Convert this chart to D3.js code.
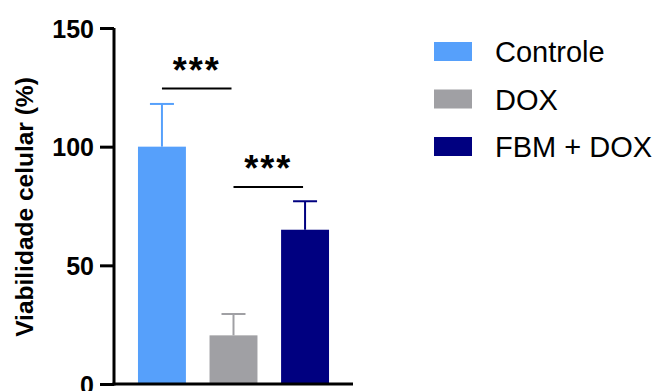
<!DOCTYPE html>
<html>
<head>
<meta charset="utf-8">
<script src="https://cdn.jsdelivr.net/npm/d3@7"></script>
<style>
  body { margin: 0; background: #fff; }
  svg { font-family: "Liberation Sans", Arial, sans-serif; }
</style>
</head>
<body>
<svg width="657" height="391"></svg>
<script>
// Data
const groups = ["Controle", "DOX", "FBM + DOX"];
const means = [100, 20.5, 65];
const errTop = [118, 29.5, 77];
const colors = ["#56a0fb", "#a0a0a4", "#000080"];
const yTicks = [0, 50, 100, 150];
// significance brackets: [from index, to index, value]
const brackets = [[0, 1, 124.5], [1, 2, 83]];

const svg = d3.select("svg");

// Scales
const x = d3.scaleBand()
    .domain(groups)
    .range([114, 353])
    .paddingInner(0.33)
    .paddingOuter(0.335);

const y = d3.scaleLinear()
    .domain([0, 150])
    .range([384, 28]);

// Bars
svg.selectAll(".bar")
    .data(groups)
    .enter()
    .append("rect")
    .attr("class", "bar")
    .attr("x", d => x(d))
    .attr("y", (d, i) => y(means[i]))
    .attr("width", x.bandwidth())
    .attr("height", (d, i) => y(0) - y(means[i]))
    .attr("fill", (d, i) => colors[i]);

// Error bars (upper only)
const eb = svg.append("g");
groups.forEach((g, i) => {
    const cx = x(g) + x.bandwidth() / 2;
    eb.append("line")
        .attr("x1", cx).attr("x2", cx)
        .attr("y1", y(means[i])).attr("y2", y(errTop[i]))
        .attr("stroke", colors[i]).attr("stroke-width", 2);
    eb.append("line")
        .attr("x1", cx - 12).attr("x2", cx + 12)
        .attr("y1", y(errTop[i])).attr("y2", y(errTop[i]))
        .attr("stroke", colors[i]).attr("stroke-width", 2);
});

// Y axis
const yAxis = svg.append("g")
    .attr("transform", "translate(114,0)")
    .call(d3.axisLeft(y).tickValues(yTicks).tickSize(14).tickPadding(6));
yAxis.select(".domain").attr("stroke", "#000").attr("stroke-width", 3)
    .attr("d", `M0,${y(150)}V${y(0) + 1.5}`);
yAxis.selectAll(".tick line").attr("stroke", "#000").attr("stroke-width", 3);
yAxis.selectAll(".tick text")
    .attr("fill", "#000")
    .style("font-size", "25px")
    .style("font-weight", "bold")
    .attr("dy", "0.36em");

// X axis line
svg.append("line")
    .attr("x1", 112.5).attr("x2", 353)
    .attr("y1", y(0)).attr("y2", y(0))
    .attr("stroke", "#000").attr("stroke-width", 3);

// Y axis title
svg.append("text")
    .attr("transform", `translate(33,${(77 + 337) / 2}) rotate(-90)`)
    .attr("text-anchor", "middle")
    .style("font-size", "24.5px")
    .style("font-weight", "bold")
    .text("Viabilidade celular (%)");

// Significance brackets
brackets.forEach(([a, b, v]) => {
    const x1 = x(groups[a]) + x.bandwidth() / 2;
    const x2 = x(groups[b]) + x.bandwidth() / 2 - 2;
    svg.append("line")
        .attr("x1", x1).attr("x2", x2)
        .attr("y1", y(v)).attr("y2", y(v))
        .attr("stroke", "#000").attr("stroke-width", 2);
    svg.append("text")
        .attr("x", (x1 + x2) / 2)
        .attr("y", y(v) - 6)
        .attr("text-anchor", "middle")
        .style("font-size", "36px")
        .style("font-weight", "bold")
        .style("letter-spacing", "2px")
        .text("***");
});

// Legend
const legend = svg.append("g").attr("transform", "translate(434,42)");
groups.forEach((g, i) => {
    const row = legend.append("g").attr("transform", `translate(0,${i * 47.5})`);
    row.append("rect")
        .attr("width", 38).attr("height", 19)
        .attr("fill", colors[i]);
    row.append("text")
        .attr("x", 61).attr("y", 20)
        .style("font-size", "29px")
        .text(g);
});
</script>
</body>
</html>
